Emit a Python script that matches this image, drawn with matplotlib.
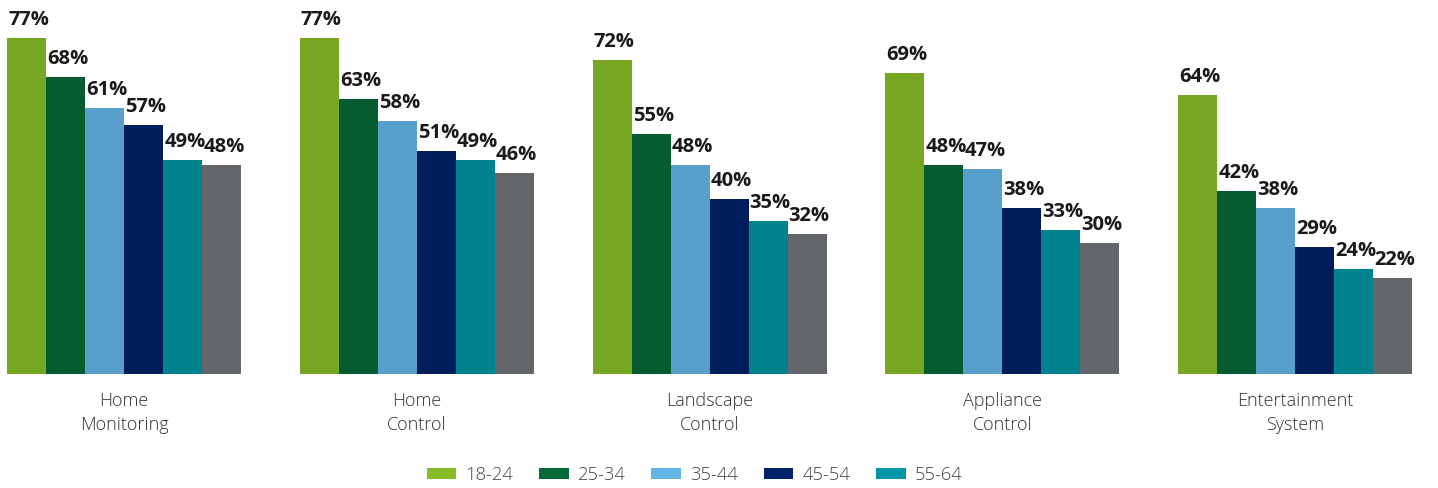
import matplotlib
matplotlib.use("Agg")
import matplotlib.pyplot as plt
from matplotlib.patches import Patch
import numpy as np

plt.rcParams['font.family'] = ['Open Sans', 'DejaVu Sans']

categories = ["Home\nMonitoring", "Home\nControl", "Landscape\nControl",
              "Appliance\nControl", "Entertainment\nSystem"]
age_groups = ["18-24", "25-34", "35-44", "45-54", "55-64", "65+"]
values = {
    "18-24": [77, 77, 72, 69, 64],
    "25-34": [68, 63, 55, 48, 42],
    "35-44": [61, 58, 48, 47, 38],
    "45-54": [57, 51, 40, 38, 29],
    "55-64": [49, 49, 35, 33, 24],
    "65+":   [48, 46, 32, 30, 22],
}
bar_colors = ["#77A622", "#075B30", "#58A0CB", "#011D5B", "#00838F", "#63666A"]
legend_colors = ["#86BC25", "#046A38", "#62B5E5", "#012169", "#0097A9"]
legend_labels = age_groups[:5]

W, H = 1438, 488
fig = plt.figure(figsize=(W / 100, H / 100), dpi=100)

base_px = 374
ax = fig.add_axes([7 / W, (H - base_px) / H, (1412 - 7) / W, base_px / H])

px_per_unit = (374 - 38) / 77
n = len(age_groups)
bw = 39 / 292.75
x = np.arange(len(categories))

for j, g in enumerate(age_groups):
    xs = x + (j - n / 2) * bw
    ax.bar(xs, values[g], width=bw, align='edge', color=bar_colors[j], linewidth=0)
    for xi, v in zip(xs, values[g]):
        ax.text(xi + 0.004, v + 8 / px_per_unit, f"{v}%", ha='left', va='bottom',
                fontsize=14.5, fontweight='bold', color='#1a1a1a')

ax.set_xlim(-n / 2 * bw, len(categories) - 1 + n / 2 * bw)
ax.set_ylim(0, base_px / px_per_unit)
ax.axis('off')

for xi, c in zip(x, categories):
    ax.text(xi, -18 / px_per_unit, c, ha='center', va='top', fontsize=13,
            fontweight='light', color='#333333', linespacing=1.4)

handles = [Patch(facecolor=c, edgecolor='none') for c in legend_colors]
fig.legend(handles, legend_labels, loc='center', bbox_to_anchor=(694.5 / W, 1 - 475 / H),
           ncol=5, frameon=False,
           prop={'size': 13.2, 'weight': 'light'},
           handlelength=1.62, handleheight=0.6,
           handletextpad=0.48, columnspacing=1.42, labelcolor='#444444')

fig.savefig("out.png", dpi=100)
